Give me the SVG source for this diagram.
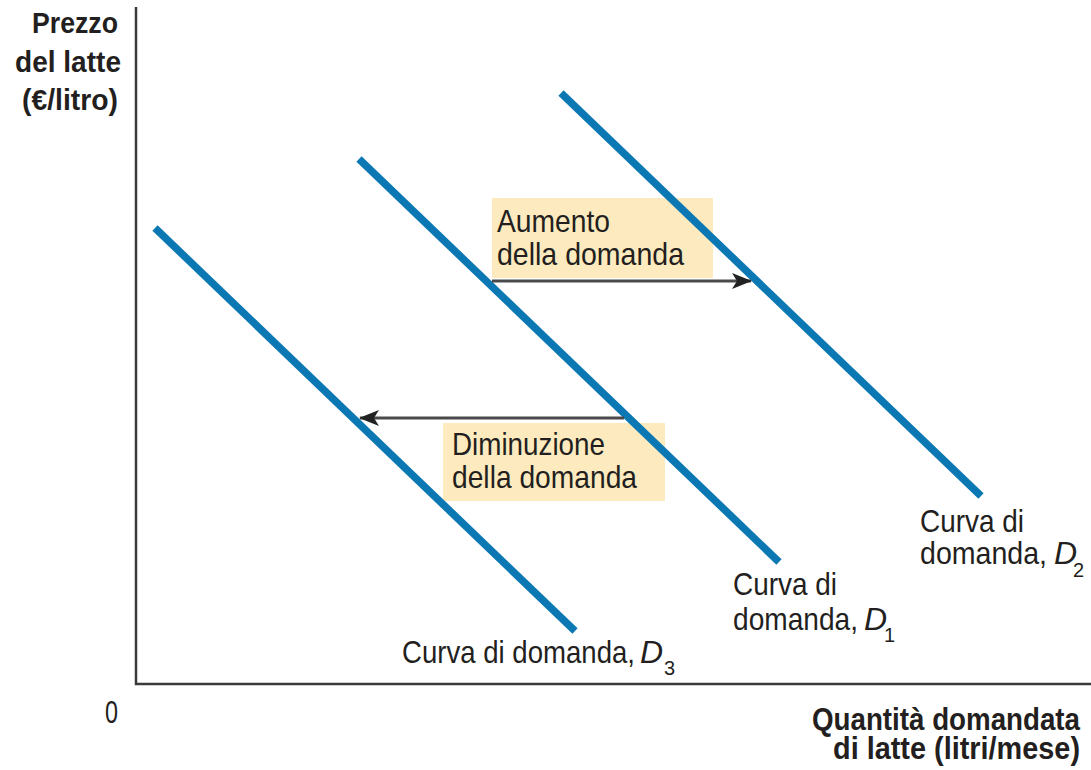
<svg xmlns="http://www.w3.org/2000/svg" width="1091" height="770" viewBox="0 0 1091 770">
<style>
.t{font-family:"Liberation Sans Narrow","Liberation Sans",Arial,sans-serif;fill:#231f20;font-size:32px}
.b{font-family:"Liberation Sans Narrow","Liberation Sans",Arial,sans-serif;fill:#231f20;font-weight:bold}
.i{font-style:italic}
.s{font-size:20px;font-style:normal}
.curve{stroke:#0b78b3;stroke-width:7.5;fill:none}
.axis{stroke:#3a3a3a;stroke-width:2.5;fill:none}
.arr{stroke:#4a4a4a;stroke-width:3;fill:none}
.box{fill:#fdebbf}
</style>
<defs>
<marker id="ah" viewBox="0 0 20 16" refX="19" refY="8" markerWidth="20" markerHeight="16" markerUnits="userSpaceOnUse" orient="auto">
<path d="M0,0 L20,8 L0,16 L5,8 Z" fill="#222"/>
</marker>
</defs>
<rect width="1091" height="770" fill="#fff"/>
<g id="axes">
<path class="axis" d="M136,7 V684 H1091"/>
<text class="b" x="118" y="33" font-size="30" text-anchor="end" textLength="86" lengthAdjust="spacingAndGlyphs">Prezzo</text>
<text class="b" x="121" y="72" font-size="30" text-anchor="end" textLength="106" lengthAdjust="spacingAndGlyphs">del latte</text>
<text class="b" x="118" y="110" font-size="30" text-anchor="end" textLength="96" lengthAdjust="spacingAndGlyphs">(€/litro)</text>
<text class="t" x="105" y="723" textLength="13" lengthAdjust="spacingAndGlyphs">0</text>
<text class="b" x="1080" y="730" font-size="31" text-anchor="end" textLength="268" lengthAdjust="spacingAndGlyphs">Quantità domandata</text>
<text class="b" x="1080" y="759" font-size="31" text-anchor="end" textLength="247" lengthAdjust="spacingAndGlyphs">di latte (litri/mese)</text>
</g>
<g id="box-aumento">
<rect class="box" x="492" y="198" width="221" height="80"/>
<text class="t" x="497" y="232" textLength="113" lengthAdjust="spacingAndGlyphs">Aumento</text>
<text class="t" x="497" y="265" textLength="187" lengthAdjust="spacingAndGlyphs">della domanda</text>
</g>
<g id="box-diminuzione">
<rect class="box" x="443" y="423" width="222" height="78"/>
<text class="t" x="452" y="455" textLength="153" lengthAdjust="spacingAndGlyphs">Diminuzione</text>
<text class="t" x="452" y="488" textLength="185" lengthAdjust="spacingAndGlyphs">della domanda</text>
</g>
<g id="curve-D3">
<line class="curve" x1="155" y1="228" x2="575" y2="631"/>
<text class="t"><tspan x="402" y="663" textLength="233" lengthAdjust="spacingAndGlyphs">Curva di domanda,</tspan><tspan class="i" x="640" y="663">D</tspan><tspan class="s" x="664" y="675">3</tspan></text>
</g>
<g id="curve-D1">
<line class="curve" x1="359" y1="159" x2="779" y2="562"/>
<text class="t" x="733" y="595" textLength="104" lengthAdjust="spacingAndGlyphs">Curva di</text>
<text class="t"><tspan x="733" y="630" textLength="125" lengthAdjust="spacingAndGlyphs">domanda,</tspan><tspan class="i" x="864" y="630">D</tspan><tspan class="s" x="884" y="642">1</tspan></text>
</g>
<g id="curve-D2">
<line class="curve" x1="561" y1="93" x2="981" y2="496"/>
<text class="t" x="920" y="532" textLength="104" lengthAdjust="spacingAndGlyphs">Curva di</text>
<text class="t"><tspan x="920" y="564" textLength="127" lengthAdjust="spacingAndGlyphs">domanda,</tspan><tspan class="i" x="1054" y="564">D</tspan><tspan class="s" x="1073" y="577">2</tspan></text>
</g>
<g id="connectors">
<line class="arr" x1="492" y1="281" x2="751" y2="281" marker-end="url(#ah)"/>
<line class="arr" x1="624" y1="418" x2="360" y2="418" marker-end="url(#ah)"/>
</g>
</svg>
